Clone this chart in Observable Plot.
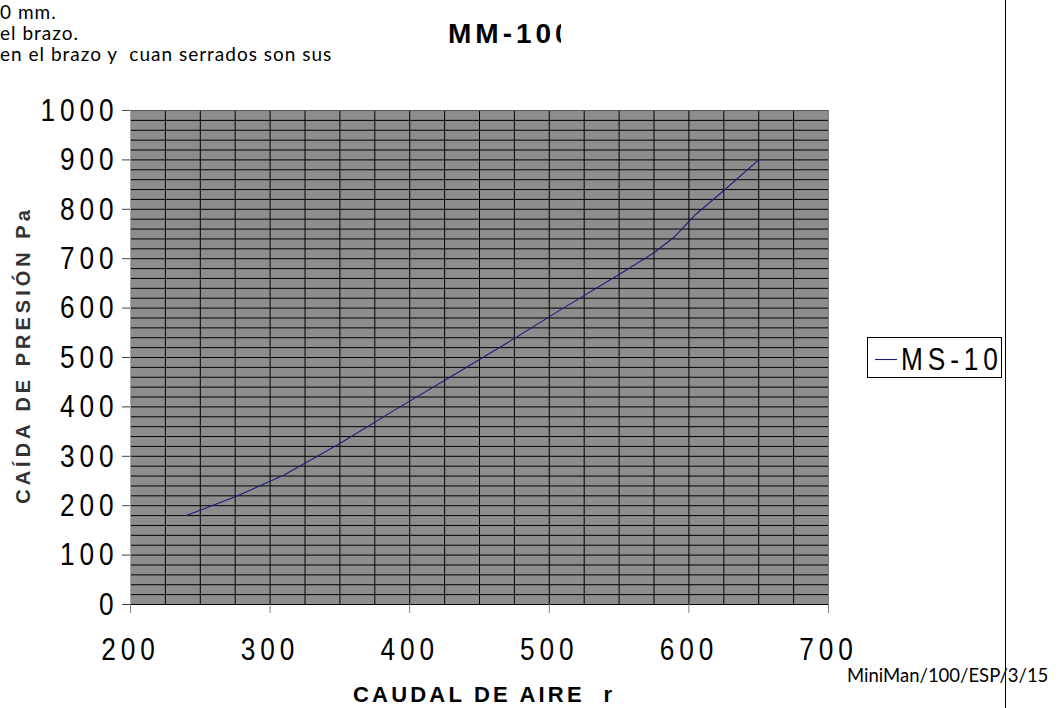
<!DOCTYPE html>
<html><head><meta charset="utf-8">
<script src="https://cdn.jsdelivr.net/npm/d3@7"></script>
<script src="https://cdn.jsdelivr.net/npm/@observablehq/plot@0.6"></script>
<style>
html,body{margin:0;padding:0;background:#fff;overflow:hidden;}
#wrap{position:relative;width:1060px;height:708px;}
#wrap > svg{position:absolute;left:0;top:0;}
#wrap svg.pl text{letter-spacing:6px;}
</style></head><body><div id="wrap"></div>
<script>
// ---- data ----
const caudal = [240, 275, 310, 350, 390, 430, 470, 510, 550, 575, 590, 605, 625, 650];
const caida  = [180, 218, 262, 326, 395, 462, 530, 600, 668, 712, 745, 790, 838, 900];
const seriesName = "MS-100";
const xTicks = [200, 300, 400, 500, 600, 700];
const yTicks = [0, 100, 200, 300, 400, 500, 600, 700, 800, 900, 1000];
const xGrid = d3.range(225, 700, 25);
const yGrid = d3.range(20, 1000, 20);
const title = "MM-100";
const xLabel = "CAUDAL DE AIRE  r";
const yLabel = "CAÍDA DE PRESIÓN Pa";
const notes = ["0 mm.", "el brazo.", "en el brazo y  cuan serrados son sus"];
const footer = "MiniMan/100/ESP/3/15";

const data = caudal.map((x, i) => ({x, y: caida[i], s: seriesName}));
const NARROW = 0.82;

const chart = Plot.plot({
  width: 1060, height: 708,
  marginLeft: 130, marginRight: 232, marginTop: 110, marginBottom: 104,
  className: "pl",
  style: {background: "transparent", fontFamily: "'Liberation Sans',Arial,sans-serif", fontSize: "32px", color: "#000"},
  x: {domain: [200, 700]},
  y: {domain: [0, 1000]},
  marks: [
    Plot.frame({fill: "#8d8d8d", stroke: null}),
    Plot.ruleX(xGrid, {stroke: "#000", strokeWidth: 1}),
    Plot.ruleY(yGrid, {stroke: "#000", strokeWidth: 1}),
    Plot.ruleY([1000], {stroke: "#555"}),
    Plot.ruleX([200], {stroke: "#a8a8a8"}),
    Plot.ruleX([700], {stroke: "#808080"}),
    Plot.ruleY([0], {stroke: "#000"}),
    Plot.line(data, {x: "x", y: "y", stroke: "#1e1e7a", strokeWidth: 1.1}),
    Plot.axisX({ticks: xTicks, tickSize: 9, tickPadding: 24, tickFormat: d => String(d), stroke: "#808080", fill: "#000", label: null, fontSize: 32}),
    Plot.axisY({ticks: yTicks, tickSize: 8, tickPadding: 4, tickFormat: d => String(d), stroke: "#444", fill: "#000", label: null, fontSize: 32})
  ]
});
document.getElementById("wrap").appendChild(chart);

// narrow the tick label glyphs (reference uses a condensed face)
chart.querySelectorAll("text").forEach(t => {
  let tr = t.getAttribute("transform");
  if (!tr) {
    const x = +(t.getAttribute("x") || 0), y = +(t.getAttribute("y") || 0);
    t.removeAttribute("x"); t.removeAttribute("y");
    tr = `translate(${x},${y})`;
  }
  t.setAttribute("transform", tr + ` scale(${NARROW},1)`);
});

// ---- overlay annotations ----
const svg = d3.select("#wrap").append("svg")
  .attr("width", 1060).attr("height", 708)
  .style("position", "absolute").style("left", 0).style("top", 0);

const defs = svg.append("defs");
defs.append("clipPath").attr("id", "tclip").append("rect")
  .attr("x", 0).attr("y", 0).attr("width", 561).attr("height", 708);
defs.append("clipPath").attr("id", "lclip").append("rect")
  .attr("x", 867).attr("y", 337).attr("width", 135).attr("height", 41);

const noteY = [19, 40, 61];
notes.forEach((t, i) => {
  svg.append("text").attr("x", 0).attr("y", noteY[i])
    .attr("font-family", "Lato, 'Open Sans', sans-serif").attr("font-size", 19)
    .style("letter-spacing", "1px").style("white-space", "pre")
    .attr("fill", "#000").text(t);
});

svg.append("text").attr("x", 448).attr("y", 43)
  .attr("clip-path", "url(#tclip)")
  .attr("font-family", "'Liberation Sans', Arial, sans-serif").attr("font-weight", "bold")
  .attr("font-size", 28).style("letter-spacing", "4px").attr("fill", "#000").text(title);

svg.append("text").attr("transform", "translate(29.5,355) rotate(-90)")
  .attr("text-anchor", "middle")
  .attr("font-family", "'Liberation Sans', Arial, sans-serif").attr("font-weight", "bold")
  .attr("font-size", 20).style("letter-spacing", "4px").attr("fill", "#333").text(yLabel);

svg.append("text").attr("x", 353).attr("y", 702)
  .attr("font-family", "'Liberation Sans', Arial, sans-serif").attr("font-weight", "bold")
  .attr("font-size", 22).style("letter-spacing", "3.2px").attr("fill", "#000")
  .style("white-space", "pre").text(xLabel);

// legend
svg.append("rect").attr("x", 867.5).attr("y", 337.5).attr("width", 134).attr("height", 40)
  .attr("fill", "#fff").attr("stroke", "#000").attr("stroke-width", 1);
const lg = svg.append("g").attr("clip-path", "url(#lclip)");
lg.append("line").attr("x1", 875).attr("x2", 897).attr("y1", 359.5).attr("y2", 359.5)
  .attr("stroke", "#1e1e7a").attr("stroke-width", 1.1);
lg.append("text").attr("transform", `translate(901,370) scale(${NARROW},1)`)
  .attr("font-family", "'Liberation Sans',Arial,sans-serif")
  .attr("font-size", 32).style("letter-spacing", "6px").attr("fill", "#000").text(seriesName);

// page border line
svg.append("line").attr("x1", 1005.5).attr("x2", 1005.5).attr("y1", 0).attr("y2", 708)
  .attr("stroke", "#000").attr("stroke-width", 1);

svg.append("text").attr("x", 847).attr("y", 682)
  .attr("font-family", "Lato, 'Open Sans', sans-serif").attr("font-size", 18.5)
  .attr("fill", "#000").text(footer);
</script>
</body></html>
